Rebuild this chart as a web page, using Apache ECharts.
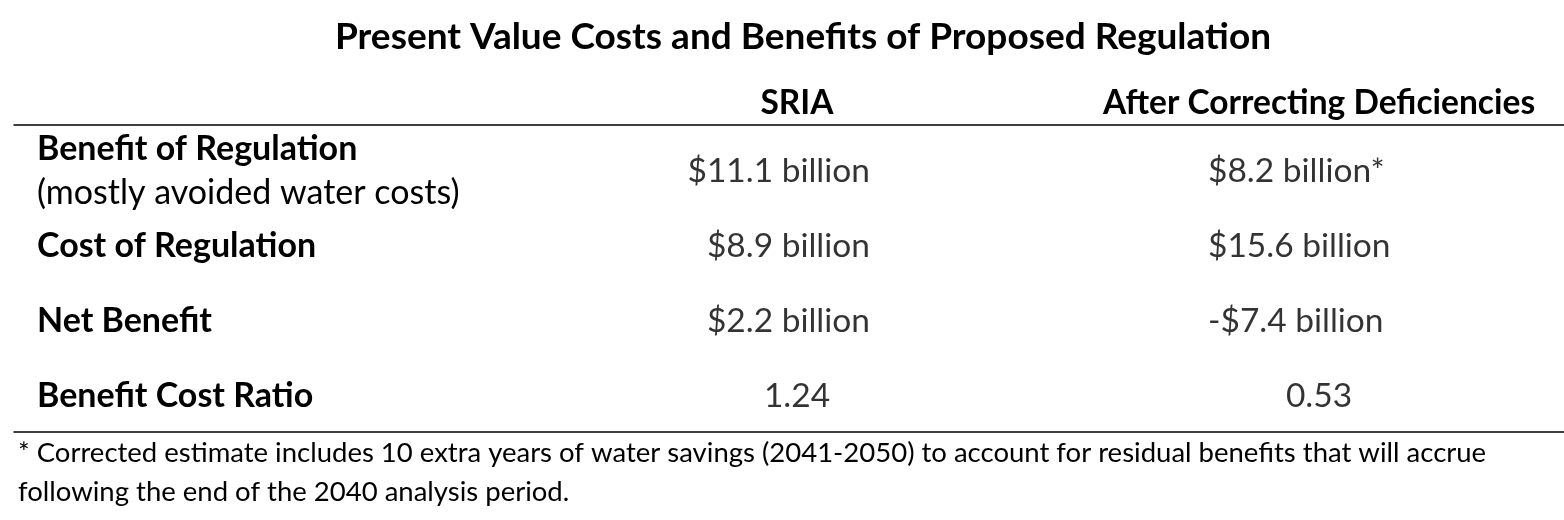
<!DOCTYPE html>
<html>
<head>
<meta charset="utf-8">
<script src="https://cdn.jsdelivr.net/npm/echarts@6/dist/echarts.min.js"></script>
<style>html,body{margin:0;padding:0;background:#fff}#c{width:1564px;height:520px}</style>
</head>
<body>
<div id="c"></div>
<script>
var titleText = 'Present Value Costs and Benefits of Proposed Regulation';
var columns = ['', 'SRIA', 'After Correcting Deficiencies'];
var rowLabels = ['Benefit of Regulation', 'Cost of Regulation', 'Net Benefit', 'Benefit Cost Ratio'];
var rowNotes = ['(mostly avoided water costs)', '', '', ''];
var sriaBillions = [11.1, 8.9, 2.2];
var correctedBillions = [8.2, 15.6, -7.4];
var sriaRatio = 1.24;
var correctedRatio = 0.53;
var correctedMarks = ['*', '', ''];
var footnote = '* Corrected estimate includes 10 extra years of water savings (2041-2050) to account for residual benefits that will accrue\nfollowing the end of the 2040 analysis period.';

var FONT = 'Lato';
function fmtBillion(v) { return (v < 0 ? '-$' + Math.abs(v).toFixed(1) : '$' + v.toFixed(1)) + ' billion'; }

var sriaData = sriaBillions.map(function (v, i) { return { value: [1, i], text: fmtBillion(v) }; });
var corrData = correctedBillions.map(function (v, i) { return { value: [2, i], text: fmtBillion(v) + correctedMarks[i] }; });
var ratioData = [
  { value: [1, 3], text: sriaRatio.toFixed(2) },
  { value: [2, 3], text: correctedRatio.toFixed(2) }
];

var chart = echarts.init(document.getElementById('c'));
var labelBase = { show: true, position: 'inside', color: '#000', fontFamily: FONT, fontSize: 33.5,
  formatter: function (p) { return p.data.text; } };

chart.setOption({
  animation: false,
  title: { text: titleText, left: 330, top: 14,
    textStyle: { fontFamily: FONT, fontWeight: 'bold', fontSize: 37, color: '#000' } },
  grid: { left: 14, width: 1566, top: 134, height: 300, outerBoundsMode: 'none', containLabel: false },
  xAxis: [
    { type: 'category', data: columns, position: 'top', offset: 9,
      axisLine: { lineStyle: { color: '#000', width: 1.5 } }, axisTick: { show: false },
      axisLabel: { interval: 0, hideOverlap: false, margin: 5, color: '#000', fontFamily: FONT, fontWeight: 'bold', fontSize: 33.5 } },
    { type: 'category', data: columns, position: 'bottom', offset: -2,
      axisLine: { lineStyle: { color: '#000', width: 1.5 } }, axisTick: { show: false },
      axisLabel: { show: false } }
  ],
  yAxis: {
    type: 'category', data: rowLabels, inverse: true,
    axisLine: { show: false }, axisTick: { show: false }, splitLine: { show: false },
    axisLabel: { interval: 0, align: 'left', margin: -23,
      formatter: function (v, i) { return rowNotes[i] ? '{b|' + v + '}\n{n|' + rowNotes[i] + '}' : '{b|' + v + '}'; },
      rich: {
        b: { fontFamily: FONT, fontWeight: 'bold', fontSize: 34, color: '#000', lineHeight: 44 },
        n: { fontFamily: FONT, fontSize: 34, color: '#000', lineHeight: 44 }
      } }
  },
  series: [
    { type: 'scatter', symbolSize: 0, data: sriaData,
      label: Object.assign({}, labelBase, { align: 'right', offset: [73, 0] }) },
    { type: 'scatter', symbolSize: 0, data: corrData,
      label: Object.assign({}, labelBase, { align: 'left', offset: [-111, 0] }) },
    { type: 'scatter', symbolSize: 0, data: ratioData,
      label: Object.assign({}, labelBase, { align: 'center' }) }
  ],
  graphic: [
    { type: 'text', left: 18, top: 434,
      style: { text: footnote, fontFamily: FONT, fontSize: 27.5, lineHeight: 39, fill: '#000' } }
  ]
});
</script>
</body>
</html>
